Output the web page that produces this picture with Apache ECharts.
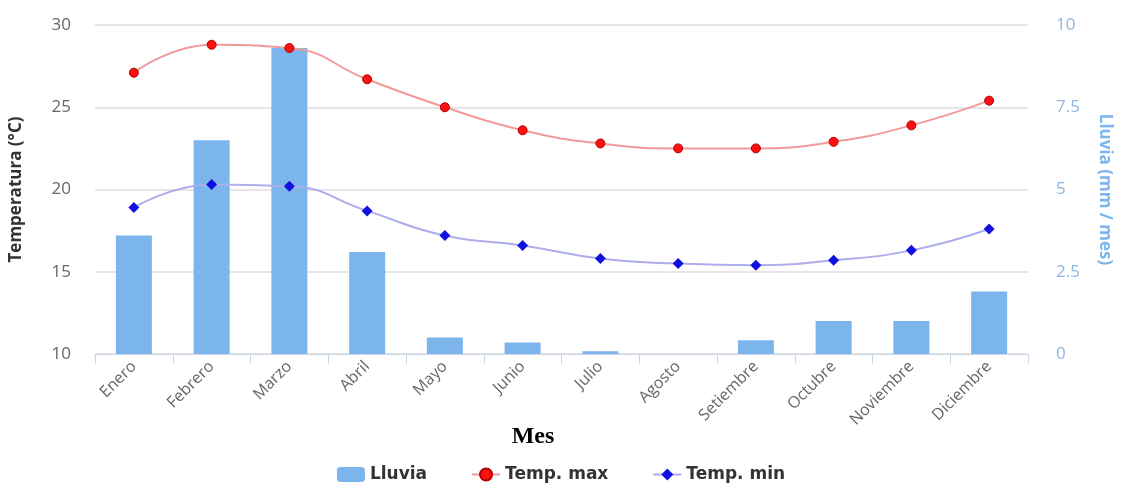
<!DOCTYPE html>
<html>
<head>
<meta charset="utf-8">
<script src="https://cdn.jsdelivr.net/npm/echarts@6/dist/echarts.min.js"></script>
<style>
  html, body { margin: 0; padding: 0; background: #fff; }
  #chart { width: 1122px; height: 489px; }
</style>
</head>
<body>
<div id="chart"></div>
<script>
// Monthly climate: rainfall (bars, right axis) and max/min temperature (lines, left axis)
const months = ['Enero', 'Febrero', 'Marzo', 'Abril', 'Mayo', 'Junio', 'Julio',
  'Agosto', 'Setiembre', 'Octubre', 'Noviembre', 'Diciembre'];
const lluvia = [3.6, 6.5, 9.3, 3.1, 0.5, 0.35, 0.08, 0, 0.42, 1.0, 1.0, 1.9];
const tempMax = [27.1, 28.8, 28.6, 26.7, 25.0, 23.6, 22.8, 22.5, 22.5, 22.9, 23.9, 25.4];
const tempMin = [18.9, 20.3, 20.2, 18.7, 17.2, 16.6, 15.8, 15.5, 15.4, 15.7, 16.3, 17.6];
const tempTicks = [10, 30, 5];
const rainTicks = [0, 10, 2.5];

const chart = echarts.init(document.getElementById('chart'));
const labelFont = '"Open Sans", sans-serif';

chart.setOption({
  animation: false,
  grid: { left: 94, right: 94, top: 25, bottom: 135 },
  legend: {
    bottom: 1,
    left: 'center',
    itemGap: 44,
    itemWidth: 28,
    itemHeight: 15,
    textStyle: { fontFamily: 'DejaVu Sans', fontWeight: 'bold', fontSize: 17, color: '#333' },
    data: ['Lluvia', 'Temp. max', 'Temp. min']
  },
  graphic: [{
    type: 'text',
    x: 533, y: 437,
    style: {
      text: 'Mes', fill: '#000', font: 'bold 24px "Liberation Serif", serif',
      align: 'center', verticalAlign: 'middle'
    }
  }],
  xAxis: {
    type: 'category',
    data: months,
    axisLine: { lineStyle: { color: '#ccd6eb' } },
    axisTick: { show: true, length: 10, lineStyle: { color: '#ccd6eb' } },
    axisLabel: { rotate: 45, color: '#666', fontFamily: labelFont, fontSize: 16, margin: 10 },
    splitLine: { show: false }
  },
  yAxis: [{
    type: 'value',
    min: tempTicks[0], max: tempTicks[1], interval: tempTicks[2],
    name: 'Temperatura (°C)',
    nameLocation: 'middle',
    nameGap: 70,
    nameTextStyle: { color: '#333', fontFamily: labelFont, fontWeight: 'bold', fontSize: 17 },
    axisLabel: { color: '#666', fontFamily: labelFont, fontSize: 17, margin: 24 },
    splitLine: { lineStyle: { color: '#e6e6e6', width: 2 } },
    axisLine: { show: false }, axisTick: { show: false }
  }, {
    type: 'value',
    position: 'right',
    min: rainTicks[0], max: rainTicks[1], interval: rainTicks[2],
    name: 'Lluvia (mm / mes)',
    nameLocation: 'middle',
    nameGap: 68,
    nameRotate: -90,
    nameTextStyle: { color: '#7cb5ec', fontFamily: labelFont, fontWeight: 'bold', fontSize: 17 },
    axisLabel: { color: '#8fb6e0', fontFamily: labelFont, fontSize: 17, margin: 28 },
    splitLine: { show: false },
    axisLine: { show: false }, axisTick: { show: false }
  }],
  series: [{
    name: 'Lluvia',
    type: 'bar',
    yAxisIndex: 1,
    data: lluvia,
    barWidth: 36,
    itemStyle: { color: '#7cb5ec' }
  }, {
    name: 'Temp. max',
    type: 'line',
    yAxisIndex: 0,
    data: tempMax,
    smooth: 0.5,
    symbol: 'circle',
    symbolSize: 9,
    lineStyle: { color: '#f29a9a', width: 2 },
    itemStyle: { color: '#ff1010', borderColor: '#b00000', borderWidth: 1 }
  }, {
    name: 'Temp. min',
    type: 'line',
    yAxisIndex: 0,
    data: tempMin,
    smooth: 0.5,
    symbol: 'diamond',
    symbolSize: 11,
    lineStyle: { color: '#adadee', width: 2 },
    itemStyle: { color: '#1010e0' }
  }]
});
</script>
</body>
</html>
